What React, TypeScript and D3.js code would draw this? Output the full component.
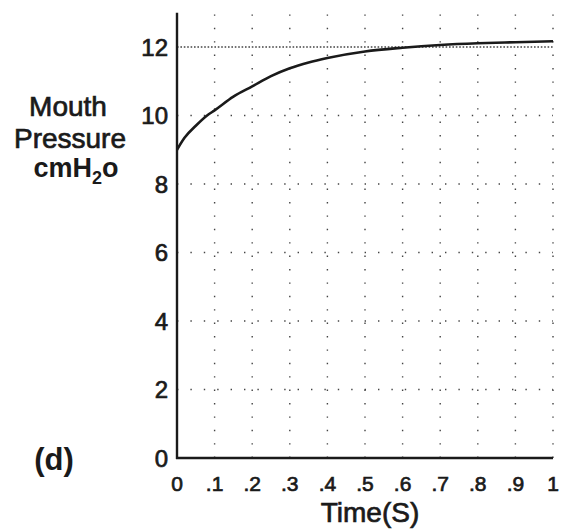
import React from "react";
import * as d3 from "d3";

const timeValues = [0, 0.02, 0.05, 0.08, 0.1, 0.15, 0.2, 0.25, 0.3, 0.35, 0.4, 0.5, 0.6, 0.7, 0.8, 0.9, 1.0];
const pressureValues = [9.0, 9.35, 9.7, 10.0, 10.15, 10.55, 10.85, 11.15, 11.38, 11.55, 11.68, 11.87, 11.98, 12.06, 12.11, 12.14, 12.17];
const xTicks = [0, 0.1, 0.2, 0.3, 0.4, 0.5, 0.6, 0.7, 0.8, 0.9, 1];
const xTickLabels = ["0", ".1", ".2", ".3", ".4", ".5", ".6", ".7", ".8", ".9", "1"];
const yTicks = [0, 2, 4, 6, 8, 10, 12];
const yTickLabels = ["0", "2", "4", "6", "8", "10", "12"];

const W = 565;
const H = 531;

export default function App() {
  const x = d3.scaleLinear().domain([0, 1]).range([177, 553]);
  const y = d3.scaleLinear().domain([0, 12]).range([458, 47]);
  const line = d3
    .line<number>()
    .x((_, i) => x(timeValues[i]))
    .y((d) => y(d))
    .curve(d3.curveMonotoneX);
  const font = "'Liberation Sans', Arial, sans-serif";
  const ink = "#1a1a1a";
  const heavy = { stroke: ink, strokeWidth: 0.7 };
  return (
    <svg
      width={W}
      height={H}
      style={{ position: "absolute", left: 0, top: 0, background: "#fff" }}
      fontFamily={font}
    >
      {/* vertical grid */}
      {xTicks.slice(1).map((t) => (
        <line
          key={"vx" + t}
          x1={x(t)}
          x2={x(t)}
          y1={y(0)}
          y2={y(13)}
          stroke="#444"
          strokeWidth={1.4}
          strokeDasharray="1.4,12"
        />
      ))}
      {/* horizontal grid */}
      {yTicks.slice(1, -1).map((v) => (
        <line
          key={"hy" + v}
          x1={x(0)}
          x2={x(1)}
          y1={y(v)}
          y2={y(v)}
          stroke="#444"
          strokeWidth={1.4}
          strokeDasharray="1.4,12"
        />
      ))}
      <line
        x1={x(0)}
        x2={x(1)}
        y1={y(12)}
        y2={y(12)}
        stroke="#444"
        strokeWidth={1.3}
        strokeDasharray="1.6,1.8"
      />
      {/* curve */}
      <path d={line(pressureValues) || ""} fill="none" stroke={ink} strokeWidth={2.6} />
      {/* axes */}
      <line x1={x(0)} x2={x(0)} y1={y(0) + 1} y2={y(13)} stroke={ink} strokeWidth={2.4} />
      <line x1={x(0) - 1} x2={x(1)} y1={y(0)} y2={y(0)} stroke={ink} strokeWidth={2.4} />
      {/* y tick labels */}
      {yTicks.map((v, i) => (
        <text
          key={"yl" + v}
          x={x(0) - 9}
          y={y(v)}
          dy="0.36em"
          textAnchor="end"
          fontSize={24}
          fill={ink}
          {...heavy}
        >
          {yTickLabels[i]}
        </text>
      ))}
      {/* x tick labels */}
      {xTicks.map((t, i) => (
        <text
          key={"xl" + t}
          x={x(t)}
          y={y(0) + 25}
          dy="0.36em"
          textAnchor="middle"
          fontSize={21}
          fill={ink}
          {...heavy}
        >
          {xTickLabels[i]}
        </text>
      ))}
      <text x={370} y={522} textAnchor="middle" fontSize={28} fill={ink} {...heavy}>
        Time(S)
      </text>
      <text x={68} y={116} textAnchor="middle" fontSize={28} fill={ink} {...heavy}>
        Mouth
      </text>
      <text x={70} y={148} textAnchor="middle" fontSize={28} fill={ink} {...heavy}>
        Pressure
      </text>
      <text x={76} y={177} textAnchor="middle" fontSize={27} fontWeight="bold" fill={ink}>
        cmH<tspan fontSize={18} dy="7">2</tspan>
        <tspan dy="-7">o</tspan>
      </text>
      <text x={54} y={470} textAnchor="middle" fontSize={31} fontWeight="bold" fill={ink}>
        (d)
      </text>
    </svg>
  );
}
